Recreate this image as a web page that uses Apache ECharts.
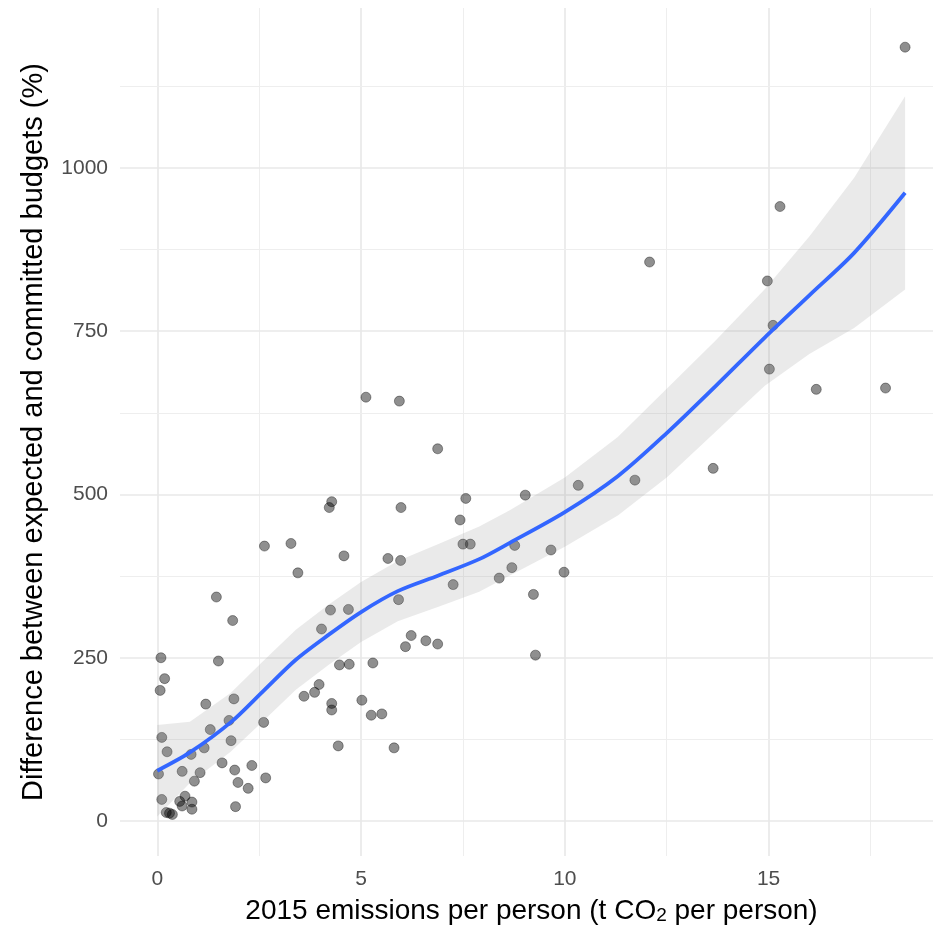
<!DOCTYPE html>
<html>
<head>
<meta charset="utf-8">
<script src="https://cdn.jsdelivr.net/npm/echarts@6/dist/echarts.min.js"></script>
<style>
  html, body { margin: 0; padding: 0; background: #fff; }
  #chart { width: 933px; height: 928px; }
</style>
</head>
<body>
<div id="chart"></div>
<script>
// 散点：2015 人均排放 vs 预算差值(%)
var emissions = [2.63, 3.28, 3.45, 1.45, 1.85, 0.09, 1.50, 0.18, 0.07, 1.19,
                 1.88, 1.76, 2.61, 1.30, 1.81, 0.11, 0.24, 0.83, 1.15, 1.59,
                 0.61, 1.05, 0.03, 1.90, 2.32, 0.91, 1.98, 2.66, 2.23, 0.11,
                 0.68, 0.55, 0.85, 0.85, 1.92, 0.22, 0.37, 0.30, 0.61,
                 5.12, 5.94, 6.88, 4.28, 4.22, 5.98, 7.57, 7.43, 7.50, 7.68,
                 4.58, 5.66, 5.97, 7.26, 5.92, 4.25, 4.69, 4.03, 6.23, 6.59,
                 6.88, 6.09, 4.47, 4.71, 5.29, 3.97, 3.86, 3.60, 4.28, 4.28,
                 5.02, 5.25, 5.51, 4.44, 5.81,
                 9.03, 10.33, 8.77, 9.66, 8.70, 8.39, 9.98, 9.23, 9.28,
                 18.35, 15.28, 12.08, 14.97, 15.11, 15.02, 16.17, 17.87, 13.64, 11.72];
var budgetDiff = [421, 425, 380, 343, 307, 250, 245, 218, 200, 179,
                  187, 154, 151, 140, 123, 128, 106, 102, 112, 89,
                  76, 74, 72, 78, 85, 61, 59, 66, 50, 33,
                  38, 30, 29, 18, 22, 13, 10, 12, 23,
                  649, 643, 570, 489, 480, 480, 494, 461, 424, 424,
                  406, 402, 399, 362, 339, 323, 324, 294, 284, 276,
                  271, 267, 239, 240, 242, 209, 197, 191, 180, 170,
                  185, 162, 164, 115, 112,
                  499, 514, 422, 415, 388, 372, 381, 347, 254,
                  1185, 941, 856, 827, 759, 692, 661, 663, 540, 522];

// loess 拟合线及置信带半宽
var fitX  = [0, 0.8, 1.8, 2.6, 3.4, 4.2, 5.0, 5.9, 6.9, 7.9, 8.65, 10, 11.3, 12.5, 13.7, 14.9, 16, 17.1, 18.35];
var fitY  = [77, 105, 151, 199, 247, 285, 320, 352, 376, 401, 426, 473, 528, 594, 666, 740, 805, 870, 962];
var fitSe = [70, 47, 45, 46, 46, 46, 46, 46, 48, 50, 50, 53, 60, 68, 70, 74, 90, 115, 148];

// 刻度与网格
var xTicks = [0, 5, 10, 15];
var yTicks = [0, 250, 500, 750, 1000];
var xMinor = [2.5, 7.5, 12.5, 17.5];
var yMinor = [125, 375, 625, 875, 1125];

var points = emissions.map(function (x, i) { return [x, budgetDiff[i]]; });
var fitLine = fitX.map(function (x, i) { return [x, fitY[i]]; });

var majorStyle = { type: 'solid', width: 1.6, color: '#e8e8e8' };
var minorStyle = { type: 'solid', width: 1, color: '#eeeeee' };
var gridLines = [];
xTicks.forEach(function (v) { gridLines.push({ xAxis: v, lineStyle: majorStyle }); });
xMinor.forEach(function (v) { gridLines.push({ xAxis: v, lineStyle: minorStyle }); });
yTicks.forEach(function (v) { gridLines.push({ yAxis: v, lineStyle: majorStyle }); });
yMinor.forEach(function (v) { gridLines.push({ yAxis: v, lineStyle: minorStyle }); });

var myChart = echarts.init(document.getElementById('chart'));
var option = {
    backgroundColor: '#fff',
    animation: false,
    textStyle: { fontFamily: 'Liberation Sans' },
    // 面板右侧超出画布（原图被裁切）
    grid: { left: 120, top: 8, width: 823, height: 848, outerBoundsMode: 'none' },
    xAxis: {
        type: 'value',
        min: -0.915,
        max: 19.28,
        axisLine: { show: false },
        axisTick: { show: false },
        splitLine: { show: false },
        axisLabel: {
            customValues: xTicks,
            color: '#4d4d4d',
            fontSize: 21,
            margin: 13,
            formatter: function (v) { return String(v); }
        },
        name: '2015 emissions per person (t CO{sub|2} per person)',
        nameLocation: 'middle',
        nameGap: 41,
        nameTextStyle: {
            color: '#000',
            fontSize: 28,
            rich: {
                sub: { fontSize: 19, verticalAlign: 'bottom', color: '#000' }
            }
        }
    },
    yAxis: {
        type: 'value',
        min: -53.6,
        max: 1245,
        axisLine: { show: false },
        axisTick: { show: false },
        splitLine: { show: false },
        axisLabel: {
            customValues: yTicks,
            color: '#4d4d4d',
            fontSize: 21,
            margin: 12,
            formatter: function (v) { return String(v); }
        },
        name: 'Difference between expected and committed budgets (%)',
        nameLocation: 'middle',
        nameGap: 72,
        nameTextStyle: { color: '#000', fontSize: 29 }
    },
    series: [
        {
            // 网格线
            type: 'line',
            data: [],
            z: 0,
            silent: true,
            markLine: {
                z: 0,
                silent: true,
                symbol: ['none', 'none'],
                label: { show: false },
                emphasis: { disabled: true },
                animation: false,
                data: gridLines
            }
        },
        {
            type: 'scatter',
            data: points,
            z: 2,
            symbolSize: 10,
            itemStyle: {
                color: 'rgba(0,0,0,0.55)',
                borderColor: 'rgba(0,0,0,0.45)',
                borderWidth: 1
            }
        },
        {
            // 置信带
            type: 'custom',
            z: 3,
            silent: true,
            data: [[fitX[0], fitY[0]]],
            renderItem: function (params, api) {
                var pts = [];
                for (var i = 0; i < fitX.length; i++) {
                    pts.push(api.coord([fitX[i], fitY[i] + fitSe[i]]));
                }
                for (var j = fitX.length - 1; j >= 0; j--) {
                    pts.push(api.coord([fitX[j], fitY[j] - fitSe[j]]));
                }
                return {
                    type: 'polygon',
                    shape: { points: pts },
                    style: { fill: 'rgba(150,150,150,0.2)' }
                };
            }
        },
        {
            type: 'line',
            data: fitLine,
            z: 4,
            smooth: 0.3,
            symbol: 'none',
            silent: true,
            lineStyle: { color: '#3366FF', width: 3.8 }
        }
    ]
};
myChart.setOption(option);
</script>
</body>
</html>
